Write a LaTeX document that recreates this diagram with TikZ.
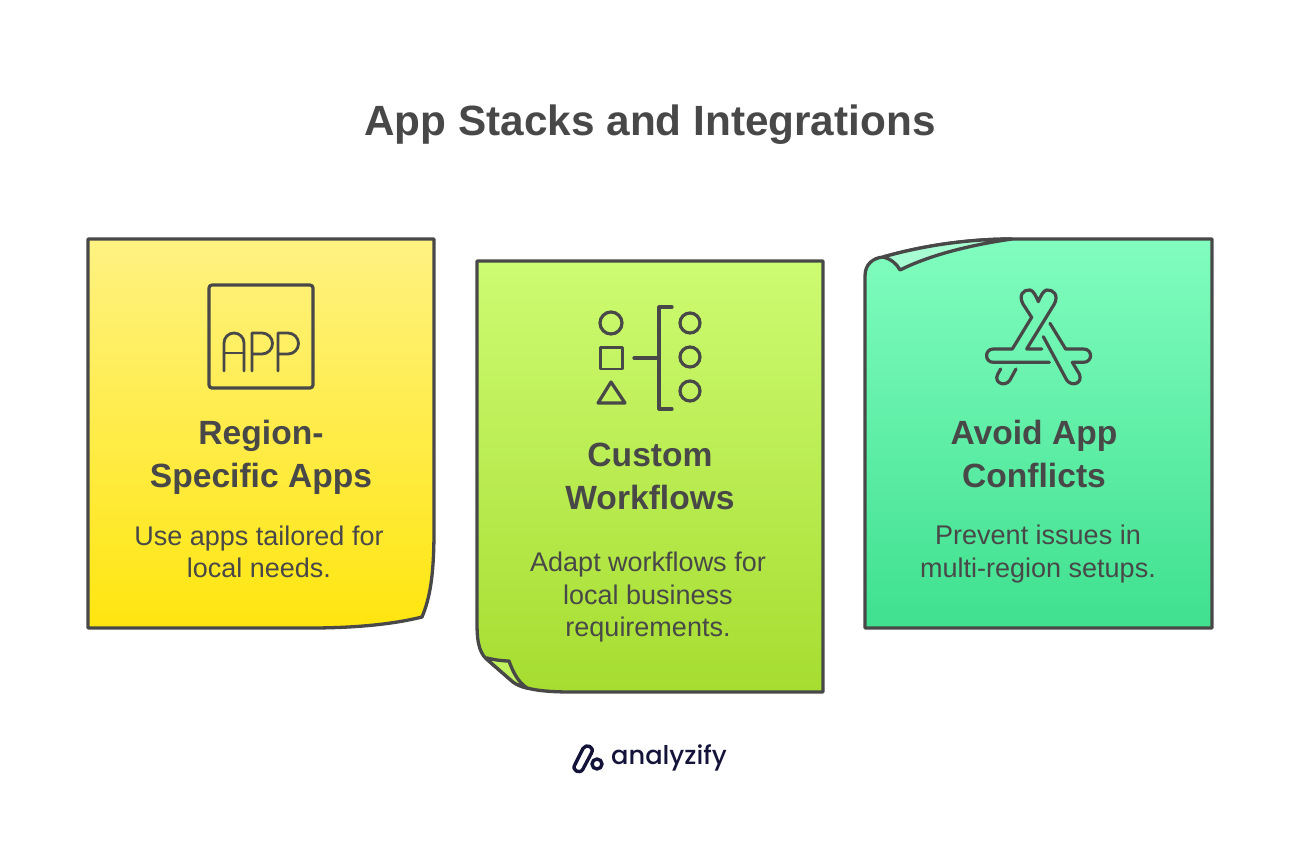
\documentclass[tikz,border=0pt]{standalone}
\usepackage{fontspec}
\setmainfont{Liberation Sans}
\newfontfamily\logofont{Poppins Medium}
\definecolor{pInk}{HTML}{484848}
\definecolor{pLogo}{HTML}{14143A}
\definecolor{pYellowA}{HTML}{FFF282}
\definecolor{pYellowB}{HTML}{FFE60F}
\definecolor{pLimeA}{HTML}{CDFB72}
\definecolor{pLimeB}{HTML}{A6DD30}
\definecolor{pMintA}{HTML}{81FDBF}
\definecolor{pMintB}{HTML}{3FE08F}
\tikzset{
    card/.style={draw=pInk, line width=3.3pt, line join=round},
    fold/.style={draw=pInk, line width=3.3pt, line join=round},
    icon/.style={draw=pInk, line width=3.2pt, line cap=round, line join=round},
    thin icon/.style={icon, line width=2.8pt},
    logo line/.style={draw=pLogo, line width=3.4pt, line join=round},
    title/.style={text=pInk, font=\fontsize{42.3}{50}\selectfont\bfseries},
    head/.style={text=pInk, align=center, font=\fontsize{33.6}{43}\selectfont\bfseries},
    body/.style={text=pInk, align=center, font=\fontsize{27}{32.5}\selectfont}
}

\begin{document}
\begin{tikzpicture}[x=1pt,y=-1pt]
\useasboundingbox (0,0) rectangle (1300,841);
\node[title] (tTitle) at (650,124.5) {App Stacks and Integrations};

\draw[card,top color=pYellowA,bottom color=pYellowB] (88,239)--(434,239)--(434,530)
    .. controls (434,575) and (430,598) .. (422,617)
    .. controls (390,625) and (350,628) .. (310,628)--(88,628)--cycle;
\draw[card,top color=pLimeA,bottom color=pLimeB] (477,261)--(823,261)--(823,692)--(572,692)
    .. controls (545,692) and (525,690) .. (513,682)
    --(490,662) .. controls (480,655) and (477,645) .. (477,623)--cycle;
\draw[fold,fill=pLimeA!70!pLimeB] (487,658) .. controls (495,660) and (503,661) .. (509,661)
    .. controls (513,672) and (518,682) .. (527,688)
    .. controls (522,687) and (517,685) .. (513,682)--(490,662)--cycle;
\draw[card,top color=pMintA,bottom color=pMintB] (865,628)--(865,276)
    .. controls (865,264) and (873,258) .. (883,257)
    .. controls (925,245) and (970,239) .. (1012,239)--(1212,239)--(1212,628)--cycle;
\draw[fold,fill=pMintA!70!white] (883,257) .. controls (891,259) and (897,264) .. (900,270)
    .. controls (930,255) and (970,245) .. (1012,239)
    .. controls (970,239) and (925,245) .. (883,257)--cycle;

% icon of the first card
\draw[icon,rounded corners=3pt] (209,285) rectangle (313,388);
\draw[thin icon] (224,371)--(224,343) arc[start angle=180,end angle=360,radius=10]--(244,371);
\draw[thin icon] (224,353)--(244,353);
\draw[thin icon] (252,371)--(252,333)--(262,333) arc[start angle=-90,end angle=90,radius=10.5]--(252,354);
\draw[thin icon] (278,371)--(278,333)--(288,333) arc[start angle=-90,end angle=90,radius=10.5]--(278,354);

% icon of the second card
\draw[icon] (611,323) circle[radius=11];
\draw[icon,line width=2.8pt] (600.5,347.5) rectangle (622.5,369);
\draw[icon] (611,382)--(625,403)--(598,403)--cycle;
\draw[icon] (634,358)--(659,358);
\draw[icon] (672,307)--(659,307)--(659,409)--(672,409);
\draw[icon] (690,323) circle[radius=10];
\draw[icon] (690,357) circle[radius=10];
\draw[icon] (690,391) circle[radius=10];

% icon of the third card
\begin{scope}[shift={(855,230)},x=0.3333pt,y=-0.3333pt]
\draw[icon] (560,357)--(515,357)--(598,222) .. controls (612,195) and (595,178) .. (575,180)
    .. controls (565,181) and (556,200) .. (550,215)
    .. controls (544,200) and (535,181) .. (525,180)
    .. controls (505,178) and (490,195) .. (504,222)--(530,262)--(472,357)--(415,357)
    .. controls (388,357) and (388,397) .. (415,397)--(583,397);
\draw[icon] (585,280)--(632,357)--(685,357) .. controls (714,357) and (714,397) .. (685,397)--(652,397)--(673,432)
    .. controls (685,460) and (650,472) .. (635,450)--(565,320);
\draw[icon] (437,417)--(428,433) .. controls (415,460) and (452,472) .. (465,450)--(483,417);
\end{scope}

\node[head] (tRegion) at (261,457) {Region-\\Specific Apps};
\node[body] (dRegion) at (259,552) {Use apps tailored for\\local needs.};
\node[head] (tCustom) at (650,476) {Custom\\Workflows};
\node[body] (dCustom) at (648,597.5) {Adapt workflows for\\local business\\requirements.};
\node[head] (tAvoid) at (1034,454) {Avoid App\\Conflicts};
\node[body] (dAvoid) at (1038,554) {Prevent issues in\\multi-region setups.};

% logo
\draw[logo line] (575,764.5)--(583,748.5) .. controls (586,743) and (595,747) .. (591.5,753)
    --(583,769) .. controls (580,775) and (571,770) .. (575,764.5)--cycle;
\draw[logo line] (597,764) circle[radius=5];
\node[text=pLogo,font=\logofont\fontsize{25.7}{30}\selectfont] (tLogo) at (669,757.5) {analyzify};
\end{tikzpicture}
\end{document}
